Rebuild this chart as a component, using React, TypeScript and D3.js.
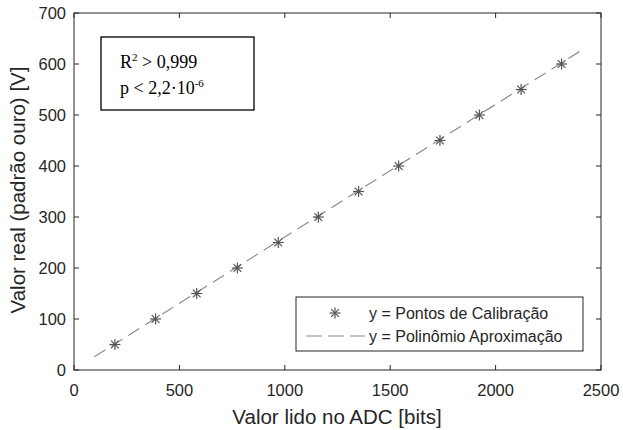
import * as d3 from "d3";
import { useEffect, useRef } from "react";

// calibration points
const adcBits = [194, 387, 582, 775, 969, 1159, 1350, 1540, 1736, 1923, 2121, 2313];
const realVolts = [50, 100, 150, 200, 250, 300, 350, 400, 450, 500, 550, 600];
// fitted polynomial endpoints
const fitX = [97, 2416];
const fitY = [26, 629];
const xTicks = [0, 500, 1000, 1500, 2000, 2500];
const yTicks = [0, 100, 200, 300, 400, 500, 600, 700];

const width = 623;
const height = 430;
const margin = { top: 13, right: 22, bottom: 60, left: 74 };

const App = () => {
  const svgRef = useRef<SVGSVGElement | null>(null);

  useEffect(() => {
    if (!svgRef.current) return;
    const svg = d3.select(svgRef.current);
    svg.selectAll("*").remove();

    const pw = width - margin.left - margin.right;
    const ph = height - margin.top - margin.bottom;
    const x = d3.scaleLinear([0, 2500], [0, pw]);
    const y = d3.scaleLinear([0, 700], [ph, 0]);
    const axisColor = "#262626";
    const sans = "'Liberation Sans', Arial, sans-serif";

    const g = svg.append("g").attr("transform", `translate(${margin.left},${margin.top})`);

    // frame
    g.append("rect")
      .attr("width", pw)
      .attr("height", ph)
      .attr("fill", "white")
      .attr("stroke", axisColor)
      .attr("stroke-width", 1);

    // inward ticks on all sides
    const tl = 5;
    const ticks = g.append("g").attr("stroke", axisColor).attr("stroke-width", 1);
    xTicks.forEach((t) => {
      ticks.append("line").attr("x1", x(t)).attr("x2", x(t)).attr("y1", ph).attr("y2", ph - tl);
      ticks.append("line").attr("x1", x(t)).attr("x2", x(t)).attr("y1", 0).attr("y2", tl);
    });
    yTicks.forEach((t) => {
      ticks.append("line").attr("x1", 0).attr("x2", tl).attr("y1", y(t)).attr("y2", y(t));
      ticks.append("line").attr("x1", pw).attr("x2", pw - tl).attr("y1", y(t)).attr("y2", y(t));
    });

    // tick labels
    g.append("g")
      .selectAll("text")
      .data(xTicks)
      .join("text")
      .attr("x", (d) => x(d))
      .attr("y", ph + 26)
      .attr("text-anchor", "middle")
      .attr("font-family", sans)
      .attr("font-size", 16.5)
      .attr("fill", axisColor)
      .text((d) => d);

    g.append("g")
      .selectAll("text")
      .data(yTicks)
      .join("text")
      .attr("x", -8)
      .attr("y", (d) => y(d) + 6)
      .attr("text-anchor", "end")
      .attr("font-family", sans)
      .attr("font-size", 16.5)
      .attr("fill", axisColor)
      .text((d) => d);

    // axis titles
    svg.append("text")
      .attr("x", 337)
      .attr("y", 424)
      .attr("text-anchor", "middle")
      .attr("font-family", sans)
      .attr("font-size", 20.5)
      .attr("fill", axisColor)
      .text("Valor lido no ADC [bits]");

    svg.append("text")
      .attr("transform", `translate(25,190) rotate(-90)`)
      .attr("text-anchor", "middle")
      .attr("font-family", sans)
      .attr("font-size", 20.5)
      .attr("fill", axisColor)
      .text("Valor real (padrão ouro) [V]");

    // fitted line
    const fit = fitX.map((v, i) => [v, fitY[i]] as [number, number]);
    g.append("path")
      .datum(fit)
      .attr("d", d3.line<[number, number]>().x((d) => x(d[0])).y((d) => y(d[1])))
      .attr("fill", "none")
      .attr("stroke", "#8c8c8c")
      .attr("stroke-width", 1.2)
      .attr("stroke-dasharray", "13,7");

    // asterisk marker
    const star = (sel: d3.Selection<SVGGElement, unknown, null, undefined>, r: number) => {
      [0, 45, 90, 135].forEach((a) => {
        const rad = (a * Math.PI) / 180;
        sel.append("line")
          .attr("x1", -r * Math.cos(rad))
          .attr("y1", -r * Math.sin(rad))
          .attr("x2", r * Math.cos(rad))
          .attr("y2", r * Math.sin(rad));
      });
    };

    adcBits.forEach((v, i) => {
      const m = g.append("g")
        .attr("transform", `translate(${x(v)},${y(realVolts[i])})`)
        .attr("stroke", "#555555")
        .attr("stroke-width", 1.2);
      star(m, 5.5);
    });

    // annotation box
    const ann = svg.append("g");
    ann.append("rect")
      .attr("x", 101)
      .attr("y", 37)
      .attr("width", 153)
      .attr("height", 73)
      .attr("fill", "white")
      .attr("stroke", "black")
      .attr("stroke-width", 1.3);
    const serif = "'Liberation Serif', 'Times New Roman', serif";
    const t1 = ann.append("text").attr("x", 120).attr("y", 68).attr("font-family", serif).attr("font-size", 18).attr("fill", "black");
    t1.append("tspan").text("R");
    t1.append("tspan").attr("font-size", 11).attr("dy", -7).text("2");
    t1.append("tspan").attr("dy", 7).text(" > 0,999");
    const t2 = ann.append("text").attr("x", 120).attr("y", 94).attr("font-family", serif).attr("font-size", 18).attr("fill", "black");
    t2.append("tspan").text("p < 2,2·10");
    t2.append("tspan").attr("font-size", 11).attr("dy", -7).text("-6");

    // legend
    const lg = svg.append("g");
    lg.append("rect")
      .attr("x", 296)
      .attr("y", 297)
      .attr("width", 287)
      .attr("height", 54)
      .attr("fill", "white")
      .attr("stroke", axisColor)
      .attr("stroke-width", 1);
    const lm = lg.append("g")
      .attr("transform", "translate(335,313)")
      .attr("stroke", "#555555")
      .attr("stroke-width", 1.2);
    star(lm, 5.5);
    lg.append("line")
      .attr("x1", 306)
      .attr("x2", 365)
      .attr("y1", 336)
      .attr("y2", 336)
      .attr("stroke", "#8c8c8c")
      .attr("stroke-width", 1.2)
      .attr("stroke-dasharray", "16,6");
    lg.append("text").attr("x", 369).attr("y", 319).attr("font-family", sans).attr("font-size", 16).attr("fill", axisColor).text("y = Pontos de Calibração");
    lg.append("text").attr("x", 369).attr("y", 342).attr("font-family", sans).attr("font-size", 16).attr("fill", axisColor).text("y = Polinômio Aproximação");
  }, []);

  return (
    <svg
      ref={svgRef}
      width={width}
      height={height}
      style={{ position: "absolute", left: 0, top: 0, background: "white" }}
    ></svg>
  );
};

export default App;
